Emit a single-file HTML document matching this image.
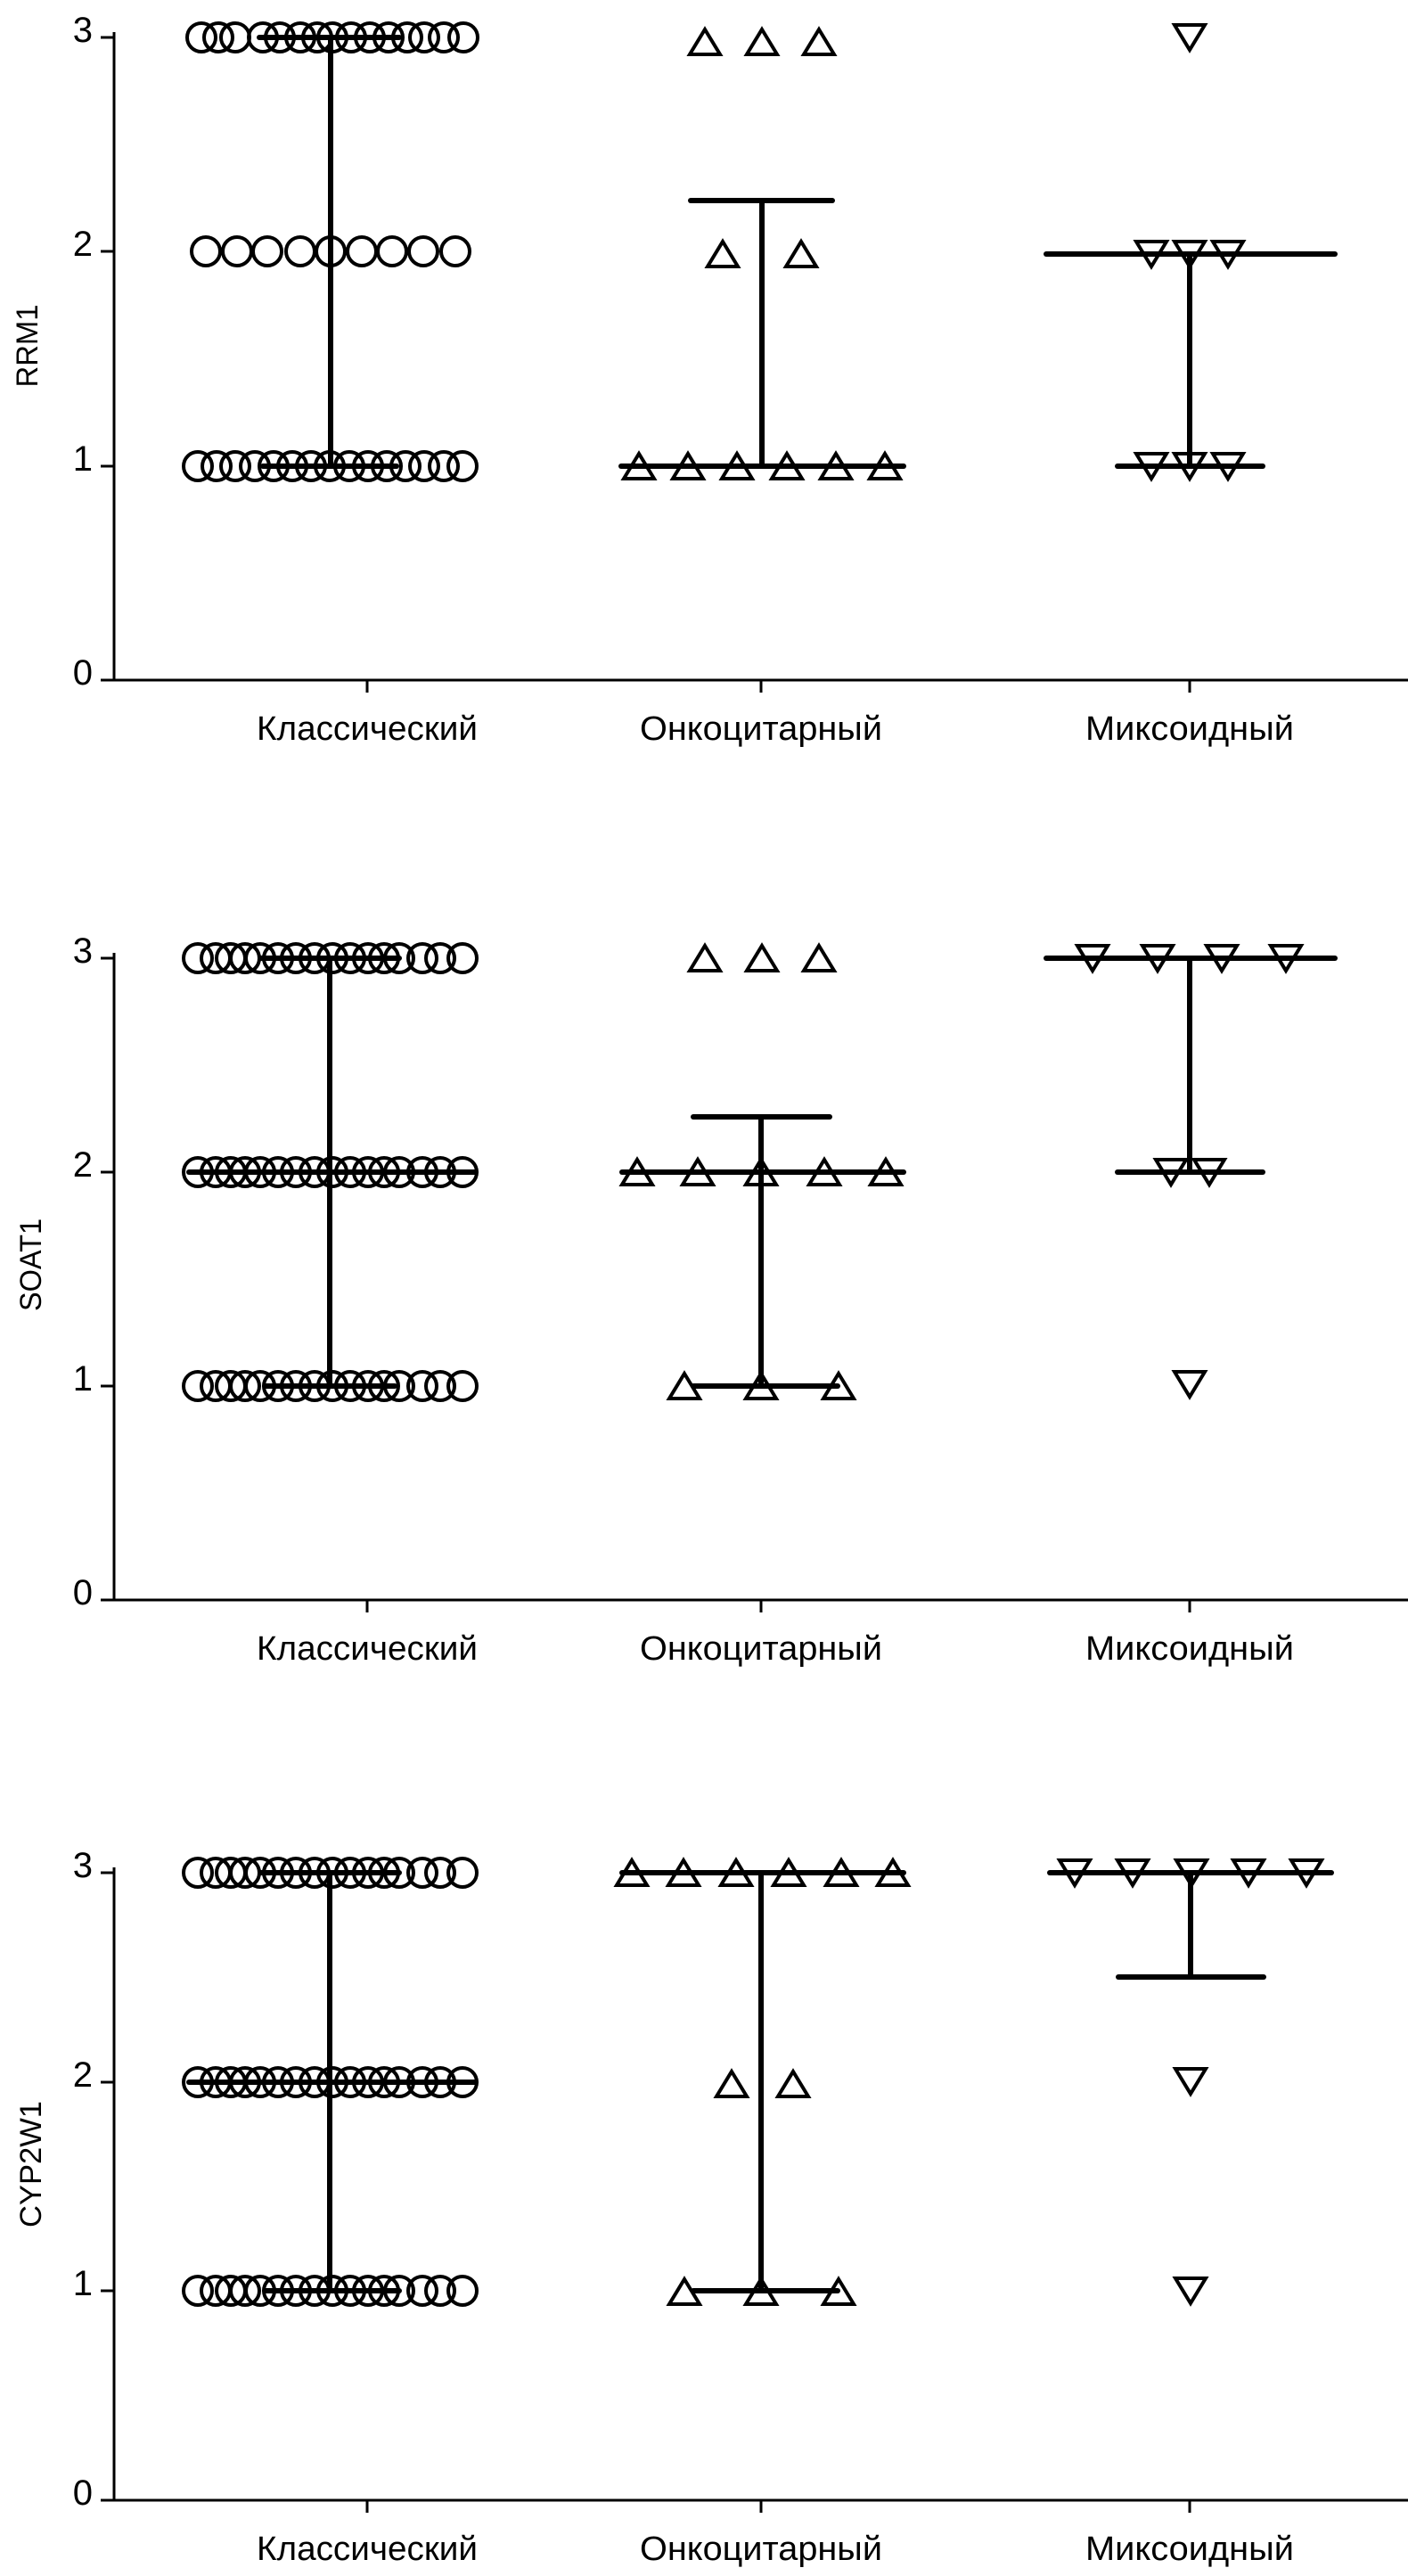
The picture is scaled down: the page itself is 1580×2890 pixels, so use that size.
<!DOCTYPE html>
<html><head><meta charset="utf-8"><style>html,body{margin:0;padding:0;background:#fff}svg{display:block}</style></head>
<body>
<svg width="1580" height="2890" viewBox="0 0 1580 2890" xmlns="http://www.w3.org/2000/svg" font-family="'Liberation Sans', sans-serif">
<defs>
<circle id="c" r="16" fill="none" stroke="#000" stroke-width="4"/>
<polygon id="tu" points="0,-14 17,14 -17,14" fill="none" stroke="#000" stroke-width="4" stroke-linejoin="miter"/>
<polygon id="td" points="-17,-14 17,-14 0,14" fill="none" stroke="#000" stroke-width="4" stroke-linejoin="miter"/>
</defs>
<g fill="#000">
<!-- ================= PANEL 1 ================= -->
<g stroke="#000" stroke-width="3" fill="none">
<line x1="128" y1="36" x2="128" y2="763"/>
<line x1="113" y1="763" x2="1580" y2="763"/>
<line x1="113" y1="42" x2="128" y2="42"/><line x1="113" y1="282" x2="128" y2="282"/><line x1="113" y1="523" x2="128" y2="523"/>
<line x1="412" y1="763" x2="412" y2="777"/><line x1="854" y1="763" x2="854" y2="777"/><line x1="1335" y1="763" x2="1335" y2="777"/>
</g>
<g font-size="40" text-anchor="end"><text x="104" y="47">3</text><text x="104" y="287">2</text><text x="104" y="528">1</text><text x="104" y="768">0</text></g>
<text transform="translate(42,388) rotate(-90)" font-size="34" text-anchor="middle" textLength="93" lengthAdjust="spacingAndGlyphs">RRM1</text>
<g font-size="38" text-anchor="middle">
<text x="412" y="830" textLength="248" lengthAdjust="spacingAndGlyphs">Классический</text>
<text x="854" y="830" textLength="272" lengthAdjust="spacingAndGlyphs">Онкоцитарный</text>
<text x="1335" y="830" textLength="234" lengthAdjust="spacingAndGlyphs">Миксоидный</text>
</g>
<g>
<use href="#c" x="226" y="42"/><use href="#c" x="245" y="42"/><use href="#c" x="264" y="42"/><use href="#c" x="295" y="42"/><use href="#c" x="314" y="42"/><use href="#c" x="337" y="42"/><use href="#c" x="356" y="42"/><use href="#c" x="373" y="42"/><use href="#c" x="394" y="42"/><use href="#c" x="415" y="42"/><use href="#c" x="436" y="42"/><use href="#c" x="457" y="42"/><use href="#c" x="476" y="42"/><use href="#c" x="498" y="42"/><use href="#c" x="520" y="42"/>
<use href="#c" x="231" y="282"/><use href="#c" x="266" y="282"/><use href="#c" x="300" y="282"/><use href="#c" x="337" y="282"/><use href="#c" x="371" y="282"/><use href="#c" x="406" y="282"/><use href="#c" x="440" y="282"/><use href="#c" x="475" y="282"/><use href="#c" x="511" y="282"/>
<use href="#c" x="222" y="523"/><use href="#c" x="243" y="523"/><use href="#c" x="264" y="523"/><use href="#c" x="286" y="523"/><use href="#c" x="307" y="523"/><use href="#c" x="328" y="523"/><use href="#c" x="349" y="523"/><use href="#c" x="370" y="523"/><use href="#c" x="392" y="523"/><use href="#c" x="413" y="523"/><use href="#c" x="434" y="523"/><use href="#c" x="455" y="523"/><use href="#c" x="476" y="523"/><use href="#c" x="498" y="523"/><use href="#c" x="519" y="523"/>
<use href="#tu" x="791" y="47"/><use href="#tu" x="855" y="47"/><use href="#tu" x="919" y="47"/>
<use href="#tu" x="811" y="285"/><use href="#tu" x="899" y="285"/>
<use href="#tu" x="717" y="523"/><use href="#tu" x="772" y="523"/><use href="#tu" x="827" y="523"/><use href="#tu" x="883" y="523"/><use href="#tu" x="938" y="523"/><use href="#tu" x="993" y="523"/>
<use href="#td" x="1335" y="42"/>
<use href="#td" x="1292" y="285"/><use href="#td" x="1335" y="285"/><use href="#td" x="1378" y="285"/>
<use href="#td" x="1292" y="523"/><use href="#td" x="1335" y="523"/><use href="#td" x="1378" y="523"/>
</g>
<g stroke="#000" stroke-width="6" stroke-linecap="round">
<line x1="371" y1="42" x2="371" y2="523"/><line x1="291" y1="42" x2="448" y2="42"/><line x1="295" y1="523" x2="445" y2="523"/>
<line x1="855" y1="225" x2="855" y2="523"/><line x1="775" y1="225" x2="934" y2="225"/><line x1="697" y1="523" x2="1014" y2="523"/>
<line x1="1335" y1="285" x2="1335" y2="523"/><line x1="1174" y1="285" x2="1498" y2="285"/><line x1="1254" y1="523" x2="1417" y2="523"/>
</g>

<!-- ================= PANEL 2 ================= -->
<g stroke="#000" stroke-width="3" fill="none">
<line x1="128" y1="1069" x2="128" y2="1795"/>
<line x1="113" y1="1795" x2="1580" y2="1795"/>
<line x1="113" y1="1075" x2="128" y2="1075"/><line x1="113" y1="1315" x2="128" y2="1315"/><line x1="113" y1="1555" x2="128" y2="1555"/>
<line x1="412" y1="1795" x2="412" y2="1809"/><line x1="854" y1="1795" x2="854" y2="1809"/><line x1="1335" y1="1795" x2="1335" y2="1809"/>
</g>
<g font-size="40" text-anchor="end"><text x="104" y="1080">3</text><text x="104" y="1320">2</text><text x="104" y="1560">1</text><text x="104" y="1800">0</text></g>
<text transform="translate(46,1419) rotate(-90)" font-size="34" text-anchor="middle" textLength="104" lengthAdjust="spacingAndGlyphs">SOAT1</text>
<g font-size="38" text-anchor="middle">
<text x="412" y="1862" textLength="248" lengthAdjust="spacingAndGlyphs">Классический</text>
<text x="854" y="1862" textLength="272" lengthAdjust="spacingAndGlyphs">Онкоцитарный</text>
<text x="1335" y="1862" textLength="234" lengthAdjust="spacingAndGlyphs">Миксоидный</text>
</g>
<g id="crow">
<use href="#c" x="222" y="1075"/><use href="#c" x="242" y="1075"/><use href="#c" x="259" y="1075"/><use href="#c" x="275" y="1075"/><use href="#c" x="292" y="1075"/><use href="#c" x="312" y="1075"/><use href="#c" x="332" y="1075"/><use href="#c" x="353" y="1075"/><use href="#c" x="373" y="1075"/><use href="#c" x="393" y="1075"/><use href="#c" x="413" y="1075"/><use href="#c" x="431" y="1075"/><use href="#c" x="448" y="1075"/><use href="#c" x="474" y="1075"/><use href="#c" x="494" y="1075"/><use href="#c" x="519" y="1075"/>
</g>
<use href="#crow" y="240"/><use href="#crow" y="480"/>
<g>
<use href="#tu" x="791" y="1075"/><use href="#tu" x="855" y="1075"/><use href="#tu" x="919" y="1075"/>
<use href="#tu" x="715" y="1315"/><use href="#tu" x="783" y="1315"/><use href="#tu" x="854" y="1315"/><use href="#tu" x="925" y="1315"/><use href="#tu" x="994" y="1315"/>
<use href="#tu" x="768" y="1555"/><use href="#tu" x="854" y="1555"/><use href="#tu" x="941" y="1555"/>
<use href="#td" x="1226" y="1075"/><use href="#td" x="1299" y="1075"/><use href="#td" x="1371" y="1075"/><use href="#td" x="1443" y="1075"/>
<use href="#td" x="1314" y="1315"/><use href="#td" x="1357" y="1315"/>
<use href="#td" x="1335" y="1553"/>
</g>
<g stroke="#000" stroke-width="6" stroke-linecap="round">
<line x1="370" y1="1075" x2="370" y2="1555"/><line x1="292" y1="1075" x2="448" y2="1075"/><line x1="297" y1="1555" x2="443" y2="1555"/><line x1="212" y1="1315" x2="534" y2="1315"/>
<line x1="854" y1="1253" x2="854" y2="1555"/><line x1="778" y1="1253" x2="931" y2="1253"/><line x1="698" y1="1315" x2="1014" y2="1315"/><line x1="778" y1="1555" x2="940" y2="1555"/>
<line x1="1335" y1="1075" x2="1335" y2="1315"/><line x1="1174" y1="1075" x2="1498" y2="1075"/><line x1="1254" y1="1315" x2="1417" y2="1315"/>
</g>

<!-- ================= PANEL 3 ================= -->
<g stroke="#000" stroke-width="3" fill="none">
<line x1="128" y1="2095" x2="128" y2="2805"/>
<line x1="113" y1="2805" x2="1580" y2="2805"/>
<line x1="113" y1="2101" x2="128" y2="2101"/><line x1="113" y1="2336" x2="128" y2="2336"/><line x1="113" y1="2570" x2="128" y2="2570"/>
<line x1="412" y1="2805" x2="412" y2="2819"/><line x1="854" y1="2805" x2="854" y2="2819"/><line x1="1335" y1="2805" x2="1335" y2="2819"/>
</g>
<g font-size="40" text-anchor="end"><text x="104" y="2106">3</text><text x="104" y="2341">2</text><text x="104" y="2575">1</text><text x="104" y="2810">0</text></g>
<text transform="translate(46,2428) rotate(-90)" font-size="34" text-anchor="middle" textLength="142" lengthAdjust="spacingAndGlyphs">CYP2W1</text>
<g font-size="38" text-anchor="middle">
<text x="412" y="2872" textLength="248" lengthAdjust="spacingAndGlyphs">Классический</text>
<text x="854" y="2872" textLength="272" lengthAdjust="spacingAndGlyphs">Онкоцитарный</text>
<text x="1335" y="2872" textLength="234" lengthAdjust="spacingAndGlyphs">Миксоидный</text>
</g>
<use href="#crow" y="1026"/><use href="#crow" y="1261"/><use href="#crow" y="1495"/>
<g>
<use href="#tu" x="709" y="2101"/><use href="#tu" x="767" y="2101"/><use href="#tu" x="826" y="2101"/><use href="#tu" x="885" y="2101"/><use href="#tu" x="944" y="2101"/><use href="#tu" x="1002" y="2101"/>
<use href="#tu" x="821" y="2338"/><use href="#tu" x="890" y="2338"/>
<use href="#tu" x="768" y="2571"/><use href="#tu" x="854" y="2571"/><use href="#tu" x="941" y="2571"/>
<use href="#td" x="1206" y="2101"/><use href="#td" x="1271" y="2101"/><use href="#td" x="1337" y="2101"/><use href="#td" x="1401" y="2101"/><use href="#td" x="1466" y="2101"/>
<use href="#td" x="1336" y="2335"/><use href="#td" x="1336" y="2570"/>
</g>
<g stroke="#000" stroke-width="6" stroke-linecap="round">
<line x1="370" y1="2101" x2="370" y2="2570"/><line x1="292" y1="2101" x2="448" y2="2101"/><line x1="297" y1="2570" x2="448" y2="2570"/><line x1="212" y1="2336" x2="534" y2="2336"/>
<line x1="854" y1="2101" x2="854" y2="2570"/><line x1="698" y1="2101" x2="1014" y2="2101"/><line x1="778" y1="2570" x2="940" y2="2570"/>
<line x1="1336" y1="2101" x2="1336" y2="2218"/><line x1="1178" y1="2101" x2="1494" y2="2101"/><line x1="1255" y1="2218" x2="1418" y2="2218"/>
</g>
</g>
</svg>
</body></html>
